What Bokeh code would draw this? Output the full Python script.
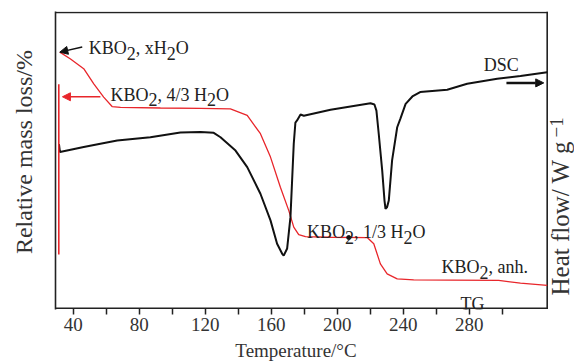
import math
from bokeh.plotting import figure
from bokeh.models import Range1d, FixedTicker, Arrow, NormalHead
from bokeh.core.properties import value
from bokeh.embed import file_html
from bokeh.resources import INLINE

# ---- data (y in % of the plot height) ----
tg_temp = [31.9, 38.4, 46.4, 52.5, 58.5, 63.6, 68.7, 92.9, 117.2, 135.3, 145.5, 153.5,
           159.6, 165.6, 170.7, 173.7, 176.7, 180.8, 196.0, 218.2, 222.2, 226.2, 230.3,
           236.4, 246.4, 268.7, 297.9, 311.1, 327.3]
tg_val = [86.6, 84.3, 81.0, 75.9, 71.4, 68.2, 67.9, 67.7, 67.6, 67.4, 65.2, 59.0,
          51.1, 40.9, 33.0, 27.4, 24.9, 24.2, 24.0, 23.9, 21.8, 15.0, 11.6,
          9.9, 9.6, 9.5, 9.4, 8.5, 7.7]

dsc_temp = [31.4, 32.0, 46.4, 56.5, 66.7, 86.8, 105.0, 117.2, 125.2, 129.3, 138.4, 145.5,
            153.5, 159.6, 163.6, 166.7, 167.6, 169.7, 171.7, 172.7, 173.7, 174.7, 175.7,
            177.8, 179.8, 196.0, 220.2, 222.6, 223.8, 225.2, 227.3, 228.7, 229.3, 230.2,
            231.3, 233.3, 236.4, 238.4, 241.5, 245.6, 250.3, 266.7, 278.8, 297.0, 311.1, 327.3]
dsc_val = [55.5, 52.8, 54.5, 55.6, 56.7, 57.8, 59.4, 59.6, 59.3, 57.8, 53.3, 47.7,
           38.7, 29.7, 21.8, 18.4, 17.8, 20.2, 30.8, 43.2, 55.6, 62.8, 63.5,
           65.5, 65.1, 67.1, 69.3, 68.9, 66.8, 59.0, 46.6, 36.4, 33.6, 34.1,
           36.4, 50.0, 61.2, 64.2, 69.1, 71.6, 73.1, 73.9, 75.9, 77.6, 78.5, 79.8]

x_ticks = [40, 60, 80, 100, 120, 140, 160, 180, 200, 220, 240, 260, 280, 300]
x_tick_labels = ["40", "", "80", "", "120", "", "160", "", "200", "", "240", "", "280", ""]

X_MIN, X_MAX = 29.3, 327.3      # extent of the boxed plot area (°C)

FONT = "Liberation Serif"
RED = "#e8262b"
INK = "#222222"
FRAME = "#222222"

W, H = 574, 363
# the canvas frame runs to the right edge so the right-hand title can be drawn;
# the visible box is drawn explicitly at X_MAX
p = figure(width=W, height=H, output_backend="svg", toolbar_location=None,
           x_range=Range1d(X_MIN, 343.85), y_range=Range1d(-0.44, 100.34),
           min_border_left=55, min_border_right=0, min_border_top=11, min_border_bottom=54)
p.background_fill_color = "white"
p.border_fill_color = "white"
p.grid.visible = False
p.outline_line_color = None

# x axis
xa = p.xaxis[0]
xa.ticker = FixedTicker(ticks=x_ticks)
xa.major_label_overrides = {t: l for t, l in zip(x_ticks, x_tick_labels)}
xa.minor_tick_line_color = None
xa.major_tick_in = 1
xa.major_tick_out = 5
xa.major_tick_line_width = 1.5
xa.major_tick_line_color = FRAME
xa.axis_line_color = None
xa.major_label_text_font = FONT
xa.major_label_text_font_size = "19px"
xa.major_label_text_color = "#333333"
xa.major_label_standoff = 3
xa.axis_label = "Temperature/°C\u2003\u2003"
xa.axis_label_text_font = FONT
xa.axis_label_text_font_size = "19px"
xa.axis_label_text_font_style = "normal"
xa.axis_label_text_color = "#333333"
xa.axis_label_standoff = 6

# left axis: no ticks, only the title
ya = p.yaxis[0]
ya.ticker = FixedTicker(ticks=[])
ya.minor_tick_line_color = None
ya.major_tick_line_color = None
ya.major_tick_in = 0
ya.major_tick_out = 0
ya.major_label_text_font_size = "0px"
ya.axis_line_color = FRAME
ya.axis_line_width = 1.6
ya.axis_label = "\u2002\u2009Relative mass loss/%"
ya.axis_label_text_font = FONT
ya.axis_label_text_font_size = "24px"
ya.axis_label_text_font_style = "normal"
ya.axis_label_text_color = "#333333"
ya.axis_label_standoff = 19

# box around the plot area
p.segment(x0=[X_MIN, X_MIN, X_MAX], y0=[0, 100, -0.3], x1=[X_MAX + 0.4, X_MAX + 0.4, X_MAX],
          y1=[0, 100, 100.3], line_color=FRAME, line_width=1.6)

# curves
p.line(tg_temp, tg_val, line_color=RED, line_width=1.3)
p.line(dsc_temp, dsc_val, line_color="#111111", line_width=2)

# small marker on the 1/3 H2O plateau
p.scatter(x=[207.0], y=[23.9], size=4, marker="circle", fill_color="#111111", line_color="#111111")

# red vertical marker line and arrows
p.segment(x0=[31.3], y0=[75.7], x1=[31.3], y1=[18.2], line_color=RED, line_width=1.6)
p.add_layout(Arrow(end=NormalHead(size=8, fill_color=RED, line_color=RED),
                   x_start=56.5, y_start=71.5, x_end=33.5, y_end=71.5,
                   line_color=RED, line_width=1.5))
p.add_layout(Arrow(end=NormalHead(size=8, fill_color="#111111", line_color="#111111"),
                   x_start=45.5, y_start=88.3, x_end=31.9, y_end=86.6,
                   line_color="#111111", line_width=1.5))
p.add_layout(Arrow(end=NormalHead(size=8, fill_color="#111111", line_color="#111111"),
                   x_start=302.6, y_start=76.2, x_end=325.2, y_end=76.2,
                   line_color="#111111", line_width=2.5))

# chemical labels built from pieces so subscripts sit lower at full size
TW = {'K': .722, 'B': .667, 'O': .722, '2': .5, ',': .25, ' ': .25, 'x': .5, 'H': .722,
      '4': .5, '/': .278, '3': .5, '1': .5, 'a': .444, 'n': .5, 'h': .5, '.': .25}
FS = 18

def chem(x, y, pieces):
    xs, ys, texts, xo, yo = [], [], [], [], []
    off = 0.0
    for txt, sub in pieces:
        xs.append(x); ys.append(y); texts.append(txt)
        xo.append(off); yo.append(5 if sub else 0)
        off += sum(TW[c] for c in txt) * FS
    p.text(x=xs, y=ys, text=texts, x_offset=xo, y_offset=yo,
           text_font=value(FONT), text_font_size=f"{FS}px", text_color=INK,
           text_align="left", text_baseline="alphabetic")

chem(49.45, 87.9, [("KBO", 0), ("2", 1), (", xH", 0), ("2", 1), ("O", 0)])
chem(62.6, 72.2, [("KBO", 0), ("2", 1), (", 4/3 H", 0), ("2", 1), ("O", 0)])
chem(181.8, 25.7, [("KBO", 0), ("2", 1), (", 1/3 H", 0), ("2", 1), ("O", 0)])
chem(263.2, 13.9, [("KBO", 0), ("2", 1), (", anh.", 0)])

p.text(x=[288.8, 274.7], y=[82.1, 1.3], text=["DSC", "TG"],
       text_font=value(FONT), text_font_size="18px", text_color=INK,
       text_align="left", text_baseline="alphabetic")

# right-hand title (reads bottom to top) with its superscript
p.text(x=[335.3], y=[4.3], text=["Heat flow/ W g"], angle=math.pi / 2,
       text_font=value(FONT), text_font_size="25px", text_color="#333333",
       text_align="left", text_baseline="alphabetic")
p.text(x=[332.9], y=[57.7], text=["\u22121"], angle=math.pi / 2,
       text_font=value(FONT), text_font_size="19px", text_color="#333333",
       text_align="left", text_baseline="alphabetic")

open("out.html", "w").write(file_html(p, INLINE))
